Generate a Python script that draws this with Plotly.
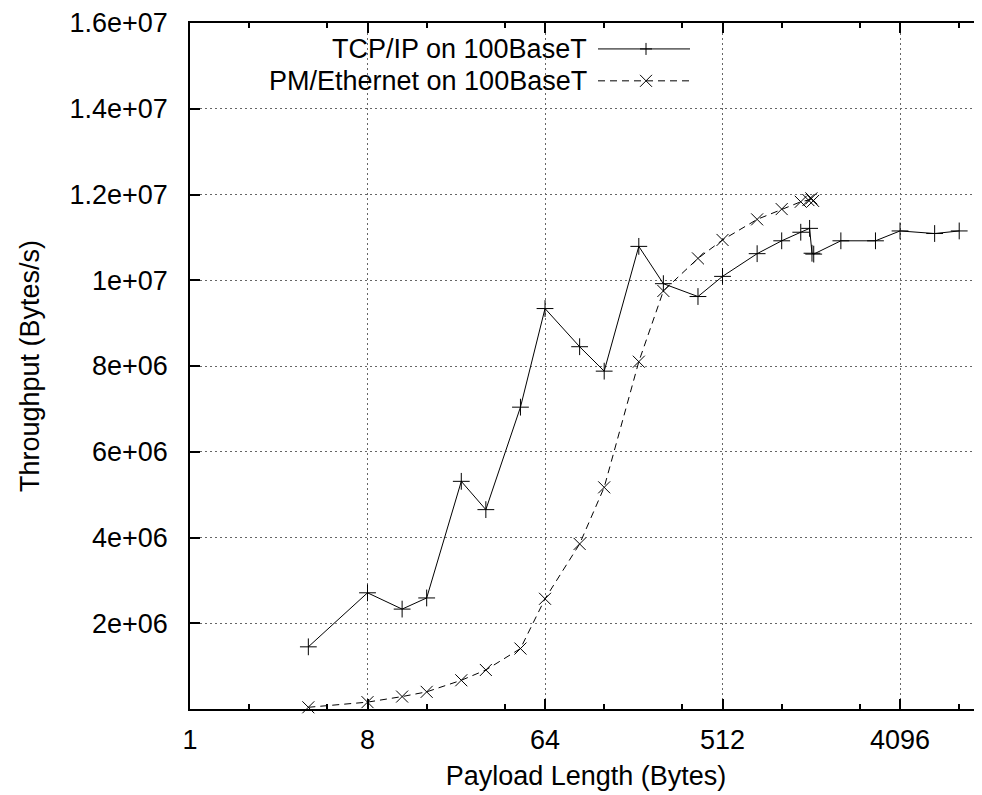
import plotly.graph_objects as go

# ---- data ----
tcp_sizes = [4, 8, 12, 16, 24, 32, 48, 64, 96, 128, 192, 256, 384, 512, 768,
             1024, 1280, 1420, 1460, 1490, 2048, 3072, 4096, 6144, 8192]
tcp_thru = [1.45e6, 2.71e6, 2.33e6, 2.59e6, 5.31e6, 4.65e6, 7.04e6, 9.34e6,
            8.45e6, 7.88e6, 10.79e6, 9.92e6, 9.62e6, 10.09e6, 10.62e6,
            10.92e6, 11.12e6, 11.21e6, 10.63e6, 10.61e6, 10.92e6, 10.92e6,
            11.15e6, 11.09e6, 11.15e6]

pm_sizes = [4, 8, 12, 16, 24, 32, 48, 64, 96, 128, 192, 256, 384, 512, 768,
            1024, 1280, 1400, 1450, 1480]
pm_thru = [0.04e6, 0.16e6, 0.29e6, 0.40e6, 0.67e6, 0.91e6, 1.41e6, 2.57e6,
           3.85e6, 5.17e6, 8.10e6, 9.75e6, 10.51e6, 10.94e6, 11.42e6,
           11.66e6, 11.83e6, 11.87e6, 11.91e6, 11.85e6]

x_tickvals = [1, 8, 64, 512, 4096]
x_ticktext = ["1", "8", "64", "512", "4096"]
x_minor = [2, 5, 16, 40, 128, 320, 1024, 2560, 8192]
y_tickvals = [2e6, 4e6, 6e6, 8e6, 1e7, 1.2e7, 1.4e7, 1.6e7]
y_ticktext = ["2e+06", "4e+06", "6e+06", "8e+06", "1e+07", "1.2e+07",
              "1.4e+07", "1.6e+07"]

series_names = ["TCP/IP on 100BaseT", "PM/Ethernet on 100BaseT"]

FONT = "Liberation Sans, Arial, Helvetica, sans-serif"
FS = 27

fig = go.Figure()
fig.add_trace(go.Scatter(
    x=tcp_sizes, y=tcp_thru, mode="lines+markers", name=series_names[0],
    line=dict(color="black", width=1),
    marker=dict(symbol="cross-thin", size=12, line=dict(color="black", width=1)),
    cliponaxis=False, showlegend=False))
fig.add_trace(go.Scatter(
    x=pm_sizes, y=pm_thru, mode="lines+markers", name=series_names[1],
    line=dict(color="black", width=1, dash="7px,5px"),
    marker=dict(symbol="x-thin", size=12, line=dict(color="black", width=1)),
    cliponaxis=False, showlegend=False))

# page body has an 8px default margin; the figure starts at (8, 8)
OFF = 8
FIG_W, FIG_H = 982 - OFF, 795 - OFF
# plot area geometry in screenshot pixels
L, R, T, B = 190, 982, 21, 709
W, H = R - L, B - T


def px_x(p):
    return (p - L) / W


def px_y(p):
    return (B - p) / H


shapes = []
# key box blanking the grid behind the legend
shapes.append(dict(type="rect", xref="paper", yref="paper",
                   x0=px_x(318), x1=px_x(702), y0=px_y(91), y1=1.0,
                   fillcolor="white", line=dict(width=0), layer="between"))
annotations = []
rows = [47, 79]
dashes = ["solid", "7px,5px"]
for i, (name, ry) in enumerate(zip(series_names, rows)):
    annotations.append(dict(text=name, xref="paper", yref="paper",
                            x=px_x(589), y=px_y(ry), xanchor="right",
                            yanchor="middle", showarrow=False,
                            font=dict(family=FONT, size=FS, color="black")))
    shapes.append(dict(type="line", xref="paper", yref="paper",
                       x0=px_x(598), x1=px_x(690), y0=px_y(ry), y1=px_y(ry),
                       line=dict(color="black", width=1, dash=dashes[i])))
    cx, cy = px_x(646), px_y(ry)
    if i == 0:
        segs = [(-6, 0, 6, 0), (0, -6, 0, 6)]
    else:
        segs = [(-6, -6, 6, 6), (-6, 6, 6, -6)]
    for (a, b, c, d) in segs:
        shapes.append(dict(type="line", xref="paper", yref="paper",
                           xsizemode="pixel", ysizemode="pixel",
                           xanchor=cx, yanchor=cy,
                           x0=a, x1=c, y0=b, y1=d,
                           line=dict(color="black", width=1)))

xmax_log2 = W / 59.17
fig.update_layout(
    width=FIG_W, height=FIG_H,
    margin=dict(l=L - OFF, r=FIG_W - (R - OFF), t=T - OFF, b=FIG_H - (B - OFF),
                pad=0),
    paper_bgcolor="white", plot_bgcolor="white",
    font=dict(family=FONT, size=FS, color="black"),
    shapes=shapes, annotations=annotations,
    xaxis=dict(
        type="log", range=[0, xmax_log2 * 0.30103],
        tickvals=x_tickvals, ticktext=x_ticktext,
        ticks="inside", ticklen=10, tickwidth=1.5, tickcolor="black",
        showline=True, linecolor="black", linewidth=1.5, mirror="ticks",
        showgrid=True, gridcolor="#666666", gridwidth=1, griddash="2px,3px",
        minor=dict(tickvals=x_minor, ticks="inside", ticklen=5,
                   tickwidth=1.5, tickcolor="black", showgrid=False),
        tickfont=dict(family=FONT, size=FS),
        ticklabelstandoff=6, ticklabeloverflow="allow",
        title=dict(text="Payload Length (Bytes)", standoff=12,
                   font=dict(family=FONT, size=FS)),
        zeroline=False,
    ),
    yaxis=dict(
        range=[0, 1.6e7],
        tickvals=y_tickvals, ticktext=y_ticktext,
        ticks="inside", ticklen=10, tickwidth=1.5, tickcolor="black",
        showline=True, linecolor="black", linewidth=1.5, mirror=False,
        showgrid=True, gridcolor="#666666", gridwidth=1, griddash="2px,3px",
        tickfont=dict(family=FONT, size=FS),
        ticklabelstandoff=15, ticklabeloverflow="allow",
        title=dict(text="Throughput (Bytes/s)", standoff=22,
                   font=dict(family=FONT, size=FS)),
        zeroline=False,
    ),
)

fig.write_html("out.html")
